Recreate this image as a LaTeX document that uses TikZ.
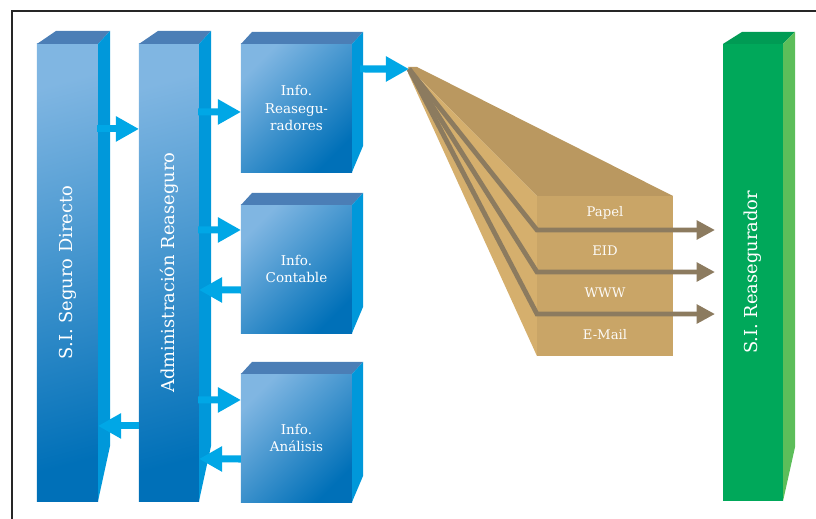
\documentclass[tikz,border=0pt]{standalone}
\usepackage{fontspec}
\setmainfont{DejaVu Serif}
\usetikzlibrary{positioning,arrows.meta}

\definecolor{topblue}{HTML}{4B7EB6}
\definecolor{sideblue}{HTML}{0098DA}
\definecolor{lightblue}{HTML}{80B6E2}
\definecolor{darkblue}{HTML}{0070B8}
\definecolor{arrowblue}{HTML}{00A7E6}
\definecolor{greenfront}{HTML}{00A85A}
\definecolor{greentop}{HTML}{009B54}
\definecolor{greenside}{HTML}{5CBE5A}
\definecolor{fantop}{HTML}{BA9860}
\definecolor{fanside}{HTML}{D5AF6D}
\definecolor{fanfront}{HTML}{C9A567}
\definecolor{fanline}{HTML}{8C7B5F}

\begin{document}
\begin{tikzpicture}[x=0.025cm, y=-0.025cm,
    col/.style = {top color=lightblue, bottom color=darkblue, shading angle=15,
        minimum width=1.525cm, minimum height=11.425cm, inner sep=0pt, outer sep=0pt},
    infobox/.style = {top color=lightblue, bottom color=darkblue, shading angle=45,
        minimum width=2.775cm, minimum height=3.2cm, inner sep=0pt, outer sep=0pt,
        text=white, font=\fontsize{9.6}{12.5}\selectfont, align=center},
    greencol/.style = {fill=greenfront, minimum width=1.5cm, minimum height=11.425cm,
        inner sep=0pt, outer sep=0pt},
    coltext/.style = {text=white, font=\fontsize{12.7}{15}\selectfont, rotate=90},
    fanrow/.style = {fill=fanfront, minimum width=3.4cm, minimum height=1.05cm,
        inner sep=0pt, outer sep=0pt, text=white!95!fanfront,
        font=\fontsize{9.4}{11}\selectfont},
    bluearrow/.style = {draw=arrowblue, line width=5pt, -{Triangle[length=16.4pt,width=17pt]}},
    brownarrow/.style = {draw=fanline, line width=3.4pt, shorten >=0.2cm,
        -{Triangle[length=13pt,width=13pt]}}]

    \useasboundingbox (0,0) rectangle (816,519);
    \draw[line width=1.1pt, black!85] (12,519) -- (12,11) -- (816,11);

    % columns and info boxes
    \node[col] (col1) at (67.5,272.5) {};
    \node[col, minimum width=1.5cm] (col2) at (169,272.5) {};
    \node[infobox] (box1) at (296.5,108) {Info.\\Reasegu-\\radores};
    \node[infobox] (box2) at (296.5,269) {Info.\\Contable};
    \node[infobox] (box3) at (296.5,438) {Info.\\An\'alisis};
    \node[greencol] (reas) at (753,272.5) {};

    \foreach \n in {col1,col2} {
        \fill[topblue] (\n.north west) -- ++(19,-13) -- ([shift={(12,-13)}]\n.north east) -- (\n.north east) -- cycle;
        \fill[sideblue] (\n.north east) -- ++(12,-13) -- ([shift={(12,-55)}]\n.south east) -- (\n.south east) -- cycle;
    }
    \foreach \n in {box1,box2,box3} {
        \fill[topblue] (\n.north west) -- ++(11,-12) -- ([shift={(11,-12)}]\n.north east) -- (\n.north east) -- cycle;
        \fill[sideblue] (\n.north east) -- ++(11,-12) -- ([shift={(11,-26)}]\n.south east) -- (\n.south east) -- cycle;
    }
    \fill[greentop] (reas.north west) -- ++(19,-12) -- ([shift={(12,-12)}]reas.north east) -- (reas.north east) -- cycle;
    \fill[greenside] (reas.north east) -- ++(12,-12) -- ([shift={(12,-54)}]reas.south east) -- (reas.south east) -- cycle;

    \node[coltext] (col1text) at (col1) {S.I. Seguro Directo};
    \node[coltext] (col2text) at (col2) {Administraci\'on Reaseguro};
    \node[coltext] (reastext) at (reas) {S.I. Reasegurador};

    % fan of channels
    \coordinate (apex) at (409,69);
    \node[fanrow, minimum height=0.85cm] (papel) at (605,213) {Papel};
    \node[fanrow, below=0pt of papel] (eid) {EID};
    \node[fanrow, below=0pt of eid] (www) {WWW};
    \node[fanrow, below=0pt of www] (email) {E-Mail};
    \fill[fantop] (408,67) -- (417,67) -- (papel.north east) -- (papel.north west) -- cycle;
    \fill[fanside] (408,67) -- (papel.north west) -- (email.south west) -- (408,73) -- cycle;

    \draw[brownarrow] (apex) -- (papel.south west) -- (papel.south west -| reas.west);
    \draw[brownarrow] (apex) -- (eid.south west) -- (eid.south west -| reas.west);
    \draw[brownarrow] (apex) -- (www.south west) -- (www.south west -| reas.west);

    % blue arrows
    \draw[bluearrow] ([shift={(-1,85)}]col1.north east) -- ([shift={(0,85)}]col2.north west);
    \draw[bluearrow] ([shift={(-1,68)}]col2.north east) -- ([shift={(0,68)}]box1.north west);
    \draw[bluearrow] ([shift={(-1,186)}]col2.north east) -- ([shift={(0,25)}]box2.north west);
    \draw[bluearrow] ([shift={(0,85)}]box2.north west) -- ([shift={(0,246)}]col2.north east);
    \draw[bluearrow] ([shift={(-1,356)}]col2.north east) -- ([shift={(0,26)}]box3.north west);
    \draw[bluearrow] ([shift={(0,85)}]box3.north west) -- ([shift={(0,415)}]col2.north east);
    \draw[bluearrow] ([shift={(0,382)}]col2.north west) -- ([shift={(0,382)}]col1.north east);
    \draw[bluearrow] ([shift={(8,25)}]box1.north east) -- (apex);

\end{tikzpicture}
\end{document}
